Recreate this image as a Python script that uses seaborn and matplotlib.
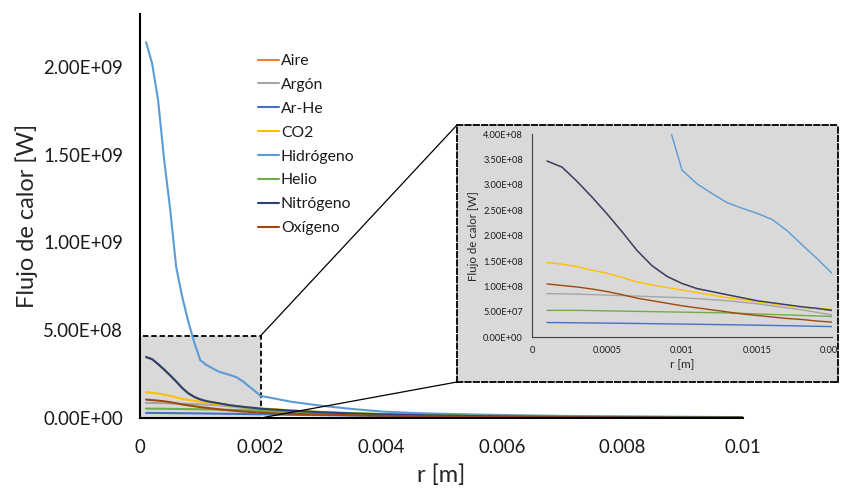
import numpy as np
import pandas as pd
import matplotlib
matplotlib.use("Agg")
import matplotlib.pyplot as plt
import matplotlib.patches as mpatches
from matplotlib.patches import ConnectionPatch
from matplotlib.ticker import FuncFormatter, MultipleLocator
import seaborn as sns

# ---------------- data ----------------
r = [0.0001, 0.0002, 0.0003, 0.0004, 0.0005, 0.0006, 0.0007, 0.0008, 0.0009, 0.0010,
     0.0011, 0.0012, 0.0013, 0.0014, 0.0015, 0.0016, 0.0017, 0.0018, 0.0019, 0.0020,
     0.0025, 0.0030, 0.0035, 0.0040, 0.0045, 0.0050, 0.0060, 0.0070, 0.0080, 0.0090, 0.0100]

gases = ["Aire", "Argón", "Ar-He", "CO2", "Hidrógeno", "Helio", "Nitrógeno", "Oxígeno"]

aire = [3.465e8, 3.345e8, 3.065e8, 2.755e8, 2.425e8, 2.075e8, 1.705e8, 1.405e8, 1.195e8, 1.055e8,
        0.955e8, 0.895e8, 0.835e8, 0.775e8, 0.715e8, 0.675e8, 0.635e8, 0.595e8, 0.565e8, 0.525e8,
        0.415e8, 0.325e8, 0.255e8, 0.205e8, 0.165e8, 0.135e8, 0.088e8, 0.058e8, 0.039e8, 0.029e8, 0.019e8]
argon = [0.86e8, 0.855e8, 0.85e8, 0.84e8, 0.83e8, 0.82e8, 0.81e8, 0.80e8, 0.79e8, 0.78e8,
         0.76e8, 0.74e8, 0.72e8, 0.69e8, 0.66e8, 0.62e8, 0.58e8, 0.54e8, 0.49e8, 0.44e8,
         0.36e8, 0.29e8, 0.23e8, 0.19e8, 0.15e8, 0.12e8, 0.08e8, 0.05e8, 0.035e8, 0.025e8, 0.02e8]
arhe = [0.29e8, 0.288e8, 0.285e8, 0.282e8, 0.279e8, 0.276e8, 0.272e8, 0.268e8, 0.264e8, 0.26e8,
        0.256e8, 0.252e8, 0.248e8, 0.243e8, 0.238e8, 0.233e8, 0.228e8, 0.222e8, 0.216e8, 0.21e8,
        0.18e8, 0.16e8, 0.14e8, 0.12e8, 0.10e8, 0.09e8, 0.07e8, 0.05e8, 0.04e8, 0.03e8, 0.025e8]
co2 = [1.47e8, 1.44e8, 1.39e8, 1.32e8, 1.26e8, 1.18e8, 1.09e8, 1.03e8, 0.98e8, 0.93e8,
       0.88e8, 0.83e8, 0.78e8, 0.74e8, 0.70e8, 0.66e8, 0.62e8, 0.59e8, 0.57e8, 0.55e8,
       0.44e8, 0.35e8, 0.28e8, 0.22e8, 0.18e8, 0.14e8, 0.09e8, 0.06e8, 0.04e8, 0.03e8, 0.02e8]
hidrogeno = [2.14e9, 2.02e9, 1.81e9, 1.47e9, 1.19e9, 0.86e9, 0.69e9, 0.55e9, 0.43e9, 3.29e8,
             3.02e8, 2.83e8, 2.65e8, 2.54e8, 2.44e8, 2.32e8, 2.10e8, 1.82e8, 1.55e8, 1.26e8,
             0.93e8, 0.70e8, 0.52e8, 0.37e8, 0.29e8, 0.24e8, 0.17e8, 0.12e8, 0.09e8, 0.07e8, 0.05e8]
helio = [0.53e8, 0.53e8, 0.53e8, 0.525e8, 0.52e8, 0.515e8, 0.51e8, 0.505e8, 0.50e8, 0.495e8,
         0.49e8, 0.485e8, 0.48e8, 0.47e8, 0.46e8, 0.45e8, 0.44e8, 0.43e8, 0.42e8, 0.41e8,
         0.36e8, 0.31e8, 0.27e8, 0.23e8, 0.20e8, 0.17e8, 0.12e8, 0.09e8, 0.07e8, 0.05e8, 0.04e8]
nitrogeno = [3.47e8, 3.35e8, 3.07e8, 2.76e8, 2.43e8, 2.08e8, 1.71e8, 1.41e8, 1.20e8, 1.06e8,
             0.96e8, 0.90e8, 0.84e8, 0.78e8, 0.72e8, 0.68e8, 0.64e8, 0.60e8, 0.57e8, 0.53e8,
             0.42e8, 0.33e8, 0.26e8, 0.21e8, 0.17e8, 0.14e8, 0.09e8, 0.06e8, 0.04e8, 0.03e8, 0.02e8]
oxigeno = [1.05e8, 1.02e8, 0.99e8, 0.95e8, 0.90e8, 0.84e8, 0.77e8, 0.72e8, 0.67e8, 0.62e8,
           0.58e8, 0.54e8, 0.50e8, 0.46e8, 0.43e8, 0.40e8, 0.37e8, 0.35e8, 0.32e8, 0.30e8,
           0.24e8, 0.20e8, 0.16e8, 0.13e8, 0.11e8, 0.09e8, 0.06e8, 0.04e8, 0.03e8, 0.02e8, 0.015e8]

series = [aire, argon, arhe, co2, hidrogeno, helio, nitrogeno, oxigeno]
colors = ["#ED7D31", "#A5A5A5", "#4472C4", "#FFC000", "#5B9BD5", "#70AD47", "#264478", "#9E480E"]

main_yticks = [0, 5e8, 1e9, 1.5e9, 2e9]
main_xticks = [0, 0.002, 0.004, 0.006, 0.008, 0.01]
inset_xticks = [0, 0.0005, 0.001, 0.0015, 0.002]
zoom_xmax = 0.002
zoom_ymax = 4.68e8
inset_ymax = 4.0e8

df = pd.DataFrame({
    "r": np.tile(r, len(gases)),
    "q": np.concatenate([np.asarray(s, dtype=float) for s in series]),
    "gas": np.repeat(gases, len(r)),
})
palette = dict(zip(gases, colors))

# ---------------- style ----------------
sns.set_style("white")
plt.rcParams["font.family"] = ["Lato", "DejaVu Sans"]
plt.rcParams["text.color"] = "#1a1a1a"

sci = FuncFormatter(lambda v, p: f"{v:.2E}")
gen = FuncFormatter(lambda v, p: f"{v:g}")

fig = plt.figure(figsize=(8.44, 4.90), dpi=100)
fig.patch.set_facecolor("white")

# ---------------- main axes ----------------
ax = fig.add_axes([140 / 844, 1 - 418 / 490, 603 / 844, 404 / 490])
ax.add_patch(mpatches.Rectangle((0, 0), zoom_xmax, zoom_ymax, facecolor="#d9d9d9",
                                edgecolor="black", linestyle=(0, (3, 1.6)), linewidth=1.3,
                                zorder=0.5))
sns.lineplot(data=df, x="r", y="q", hue="gas", hue_order=gases, palette=palette,
             estimator=None, errorbar=None, linewidth=1.5, ax=ax, legend=True)
ax.set_xlim(0, 0.01)
ax.set_ylim(0, 2.3e9)
ax.set_xticks(main_xticks)
ax.set_yticks(main_yticks)
ax.xaxis.set_major_formatter(gen)
ax.yaxis.set_major_formatter(sci)
for s in ["top", "right"]:
    ax.spines[s].set_visible(False)
for s in ["left", "bottom"]:
    ax.spines[s].set_color("black")
    ax.spines[s].set_linewidth(1.5)
ax.tick_params(axis="both", direction="out", length=5, width=1.5, color="black",
               labelsize=13.4, labelcolor="#1a1a1a")
ax.tick_params(axis="x", pad=10)
ax.tick_params(axis="y", pad=7)
ax.set_xlabel("r [m]", fontsize=17, labelpad=6)
ax.set_ylabel("Flujo de calor [W]", fontsize=17, labelpad=4)
ax.grid(False)

leg = ax.legend(loc="upper left", bbox_to_anchor=(258 / 844, 1 - 54 / 490),
                bbox_transform=fig.transFigure, frameon=False, fontsize=11.3,
                handlelength=1.33, handletextpad=0.12, labelspacing=0.63,
                borderpad=0, borderaxespad=0)
for line in leg.get_lines():
    line.set_linewidth(1.5)

# ---------------- inset box ----------------
axb = fig.add_axes([457 / 844, 1 - 382 / 490, 381 / 844, 257 / 490])
axb.set_facecolor("#d9d9d9")
axb.set_xticks([])
axb.set_yticks([])
for s in axb.spines.values():
    s.set_visible(True)
    s.set_color("black")
    s.set_linestyle((0, (3, 1.6)))
    s.set_linewidth(1.3)

con1 = ConnectionPatch(xyA=(zoom_xmax, zoom_ymax), coordsA=ax.transData,
                       xyB=(0, 1), coordsB=axb.transAxes, color="black", linewidth=0.9)
con2 = ConnectionPatch(xyA=(zoom_xmax, 0), coordsA=ax.transData,
                       xyB=(0, 0), coordsB=axb.transAxes, color="black", linewidth=0.9)
fig.add_artist(con1)
fig.add_artist(con2)

axi = fig.add_axes([532 / 844, 1 - 337.3 / 490, 300 / 844, 203.3 / 490])
axi.set_facecolor("#d9d9d9")
sns.lineplot(data=df, x="r", y="q", hue="gas", hue_order=gases, palette=palette,
             estimator=None, errorbar=None, linewidth=1.0, ax=axi, legend=False)
axi.set_xlim(0, zoom_xmax)
axi.set_ylim(0, inset_ymax)
axi.set_xticks(inset_xticks)
axi.yaxis.set_major_locator(MultipleLocator(5e7))
axi.xaxis.set_major_formatter(gen)
axi.yaxis.set_major_formatter(sci)
for s in ["top", "right"]:
    axi.spines[s].set_visible(False)
for s in ["left", "bottom"]:
    axi.spines[s].set_color("#404040")
    axi.spines[s].set_linewidth(0.8)
axi.tick_params(axis="both", direction="out", length=2.5, width=0.8, color="#404040",
                labelsize=6.7, labelcolor="#1a1a1a", pad=4)
axi.set_xlabel("r [m]", fontsize=8.5, labelpad=3)
axi.set_ylabel("Flujo de calor [W]", fontsize=8.3, labelpad=3)
axi.grid(False)
for t in axi.xaxis.get_major_ticks():
    t.label1.set_clip_path(axb.patch)

fig.savefig("out.png", dpi=100)
